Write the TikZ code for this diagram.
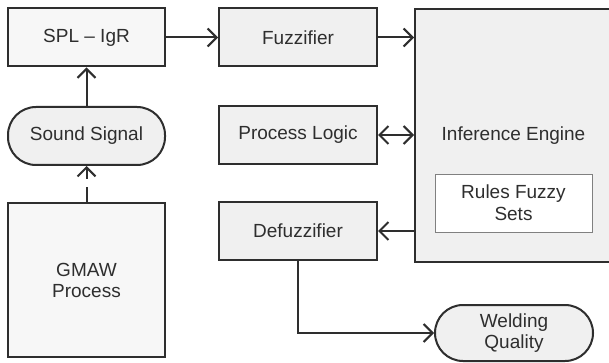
\documentclass[tikz,border=0pt]{standalone}
\usepackage{fontspec}
\setmainfont{Liberation Sans}
\usetikzlibrary{arrows.meta}
\definecolor{ink}{HTML}{2E2E2E}
\definecolor{boxfill}{HTML}{F0F0F0}
\definecolor{palefill}{HTML}{F7F7F7}
\definecolor{thinline}{HTML}{808080}
\tikzset{
  blk/.style={draw=ink, line width=2pt, fill=boxfill, text=ink,
    inner sep=0pt, align=center, font=\fontsize{19}{22}\selectfont},
  pill/.style={blk, rounded corners=28pt},
  flow/.style={draw=ink, line width=2pt,
    -{Straight Barb[length=9pt,width=18pt,line width=2pt]}},
  bothflow/.style={flow,
    {Straight Barb[length=9pt,width=18pt,line width=2pt]}-{Straight Barb[length=9pt,width=18pt,line width=2pt]}}
}
\begin{document}
\begin{tikzpicture}[x=1pt, y=-1pt]
  \clip (0,0) rectangle (609,363);
  \fill[white] (0,0) rectangle (609,363);

  % left column
  \node[blk, fill=palefill, minimum width=157pt, minimum height=58pt] (spl) at (86.5,37.5) {SPL -- IgR};
  \node[pill, minimum width=157pt, minimum height=58pt] (sound) at (86.5,136) {Sound Signal};
  \node[blk, fill=palefill, minimum width=157pt, minimum height=154pt] (gmaw) at (86.5,280) {GMAW\\[-1pt]Process};

  % middle column
  \node[blk, minimum width=158pt, minimum height=58pt] (fuzz) at (298,37.5) {Fuzzifier};
  \node[blk, minimum width=158pt, minimum height=58pt] (plog) at (298,135) {Process Logic};
  \node[blk, minimum width=158pt, minimum height=58pt] (defuzz) at (298,231) {Defuzzifier};

  % inference engine (runs off the right edge)
  \node[blk, minimum width=197pt, minimum height=253pt] (inf) at (513.5,135.5) {Inference Engine};
  \node[draw=thinline, line width=0.8pt, fill=white, text=ink, align=center,
        inner sep=0pt, minimum width=157pt, minimum height=58pt,
        font=\fontsize{19}{22}\selectfont] (rules) at (513.5,203) {Rules Fuzzy\\Sets};

  % output
  \node[pill, minimum width=158pt, minimum height=56pt] (weld) at (514,333) {Welding\\[-1pt]Quality};

  % connectors
  \draw[flow] (spl.east) -- (fuzz.west);
  \draw[flow] (fuzz.east) -- (fuzz.east -| inf.west);
  \draw[bothflow] (plog.east) -- (plog.east -| inf.west);
  \draw[flow] (defuzz.east -| inf.west) -- (defuzz.east);
  \draw[flow] (defuzz.south) |- (weld.west);
  \draw[flow] (sound.north) -- (spl.south);
  \draw[flow, dash pattern=on 15pt off 8pt] (gmaw.north) -- (sound.south);
\end{tikzpicture}
\end{document}
